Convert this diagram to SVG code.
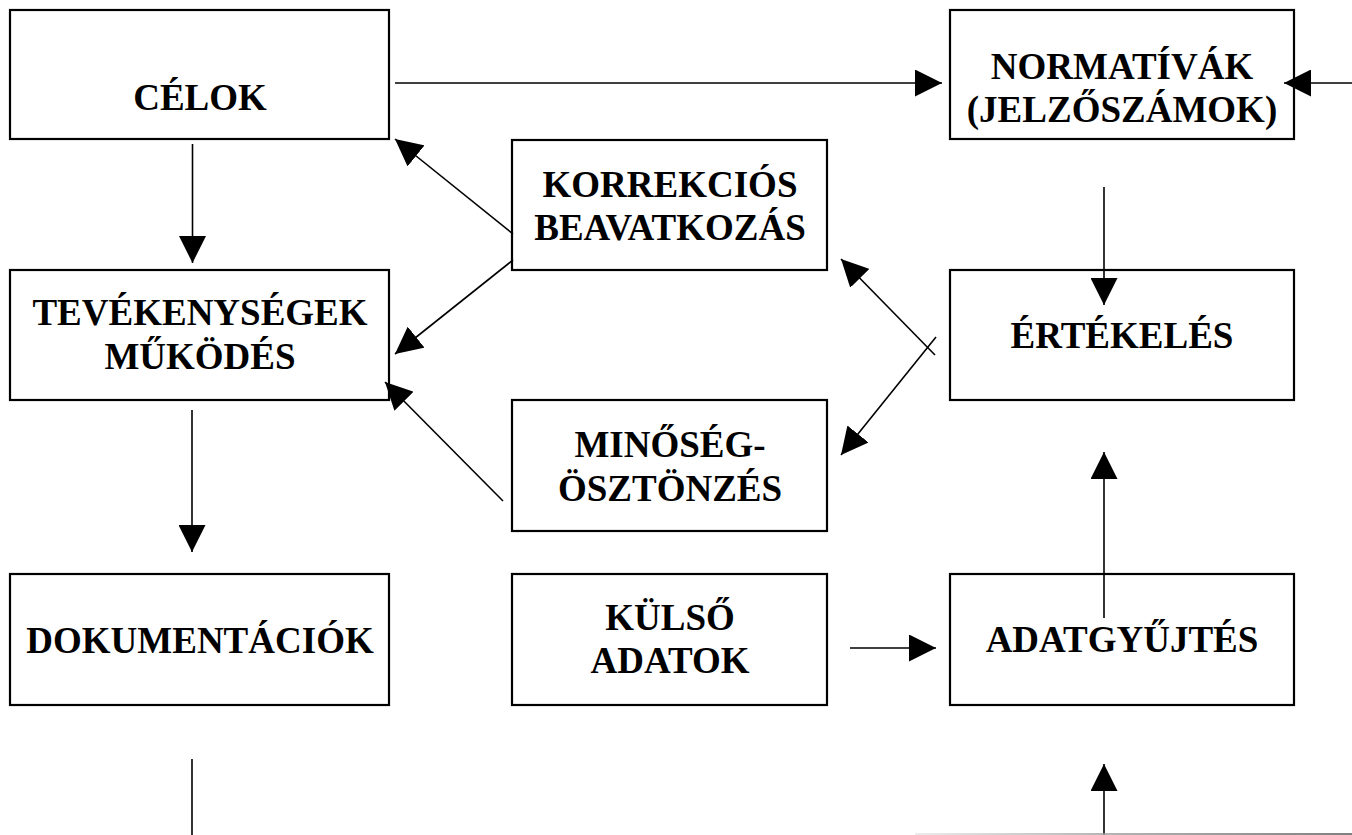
<svg xmlns="http://www.w3.org/2000/svg" width="1352" height="835" viewBox="0 0 1352 835">
<style>
.box{fill:#fff;stroke:#000;stroke-width:2.2}
.t{font-family:"Liberation Serif","Times New Roman",serif;font-weight:bold;font-size:37px;fill:#000;text-anchor:middle}
.c{stroke:#000;stroke-width:1.6;fill:none}
.a{marker-end:url(#ah)}
</style>
<defs>
<marker id="ah" markerUnits="userSpaceOnUse" markerWidth="27" markerHeight="27" viewBox="0 0 27 27" refX="27" refY="13.5" orient="auto">
<path d="M0,0 L27,13.5 L0,27 z" fill="#000"/>
</marker>
<linearGradient id="fade" x1="915" y1="0" x2="1352" y2="0" gradientUnits="userSpaceOnUse">
<stop offset="0" stop-color="#e6e6e6"/>
<stop offset="0.45" stop-color="#999"/>
<stop offset="1" stop-color="#555"/>
</linearGradient>
</defs>
<rect width="1352" height="835" fill="#fff"/>
<g id="celok"><rect class="box" x="10" y="10" width="379" height="129"/><text class="t" x="200" y="110">CÉLOK</text></g>
<g id="normativak"><rect class="box" x="950" y="10" width="344" height="129"/><text class="t" x="1122" y="79">NORMATÍVÁK</text><text class="t" x="1122" y="122">(JELZŐSZÁMOK)</text></g>
<g id="korrekcios"><rect class="box" x="512" y="140" width="315" height="130"/><text class="t" x="670" y="197">KORREKCIÓS</text><text class="t" x="670" y="240">BEAVATKOZÁS</text></g>
<g id="tevekenysegek"><rect class="box" x="10" y="270" width="379" height="130"/><text class="t" x="200" y="325">TEVÉKENYSÉGEK</text><text class="t" x="200" y="369">MŰKÖDÉS</text></g>
<g id="ertekeles"><rect class="box" x="950" y="270" width="344" height="130"/><text class="t" x="1122" y="348">ÉRTÉKELÉS</text></g>
<g id="minoseg"><rect class="box" x="512" y="400" width="315" height="131"/><text class="t" x="670" y="457">MINŐSÉG-</text><text class="t" x="670" y="501">ÖSZTÖNZÉS</text></g>
<g id="dokumentaciok"><rect class="box" x="10" y="574" width="379" height="131"/><text class="t" x="200" y="653">DOKUMENTÁCIÓK</text></g>
<g id="kulso"><rect class="box" x="512" y="574" width="315" height="131"/><text class="t" x="670" y="630">KÜLSŐ</text><text class="t" x="670" y="673">ADATOK</text></g>
<g id="adatgyujtes"><rect class="box" x="950" y="574" width="344" height="131"/><text class="t" x="1122" y="652">ADATGYŰJTÉS</text></g>
<g id="connectors">
<line class="c a" x1="395" y1="83" x2="942" y2="83"/>
<line class="c a" x1="1352" y1="83" x2="1284" y2="83"/>
<line class="c a" x1="192.5" y1="144" x2="192.5" y2="263"/>
<line class="c a" x1="192" y1="410" x2="192" y2="552"/>
<line class="c" x1="192" y1="759" x2="192" y2="835"/>
<line class="c a" x1="513" y1="234" x2="395" y2="139"/>
<line class="c a" x1="513" y1="260" x2="395" y2="354"/>
<line class="c a" x1="503" y1="501" x2="385" y2="382"/>
<line class="c a" x1="935" y1="355" x2="841" y2="259"/>
<line class="c a" x1="936" y1="337" x2="841" y2="455"/>
<line class="c a" x1="1104" y1="187" x2="1104" y2="305"/>
<line class="c a" x1="1104" y1="618" x2="1104" y2="452"/>
<line class="c a" x1="850" y1="648" x2="936" y2="648"/>
<line class="c a" x1="1104" y1="835" x2="1104" y2="764"/>
<line x1="915" y1="834" x2="1352" y2="834" stroke="url(#fade)" stroke-width="1.6"/>
</g>
</svg>
